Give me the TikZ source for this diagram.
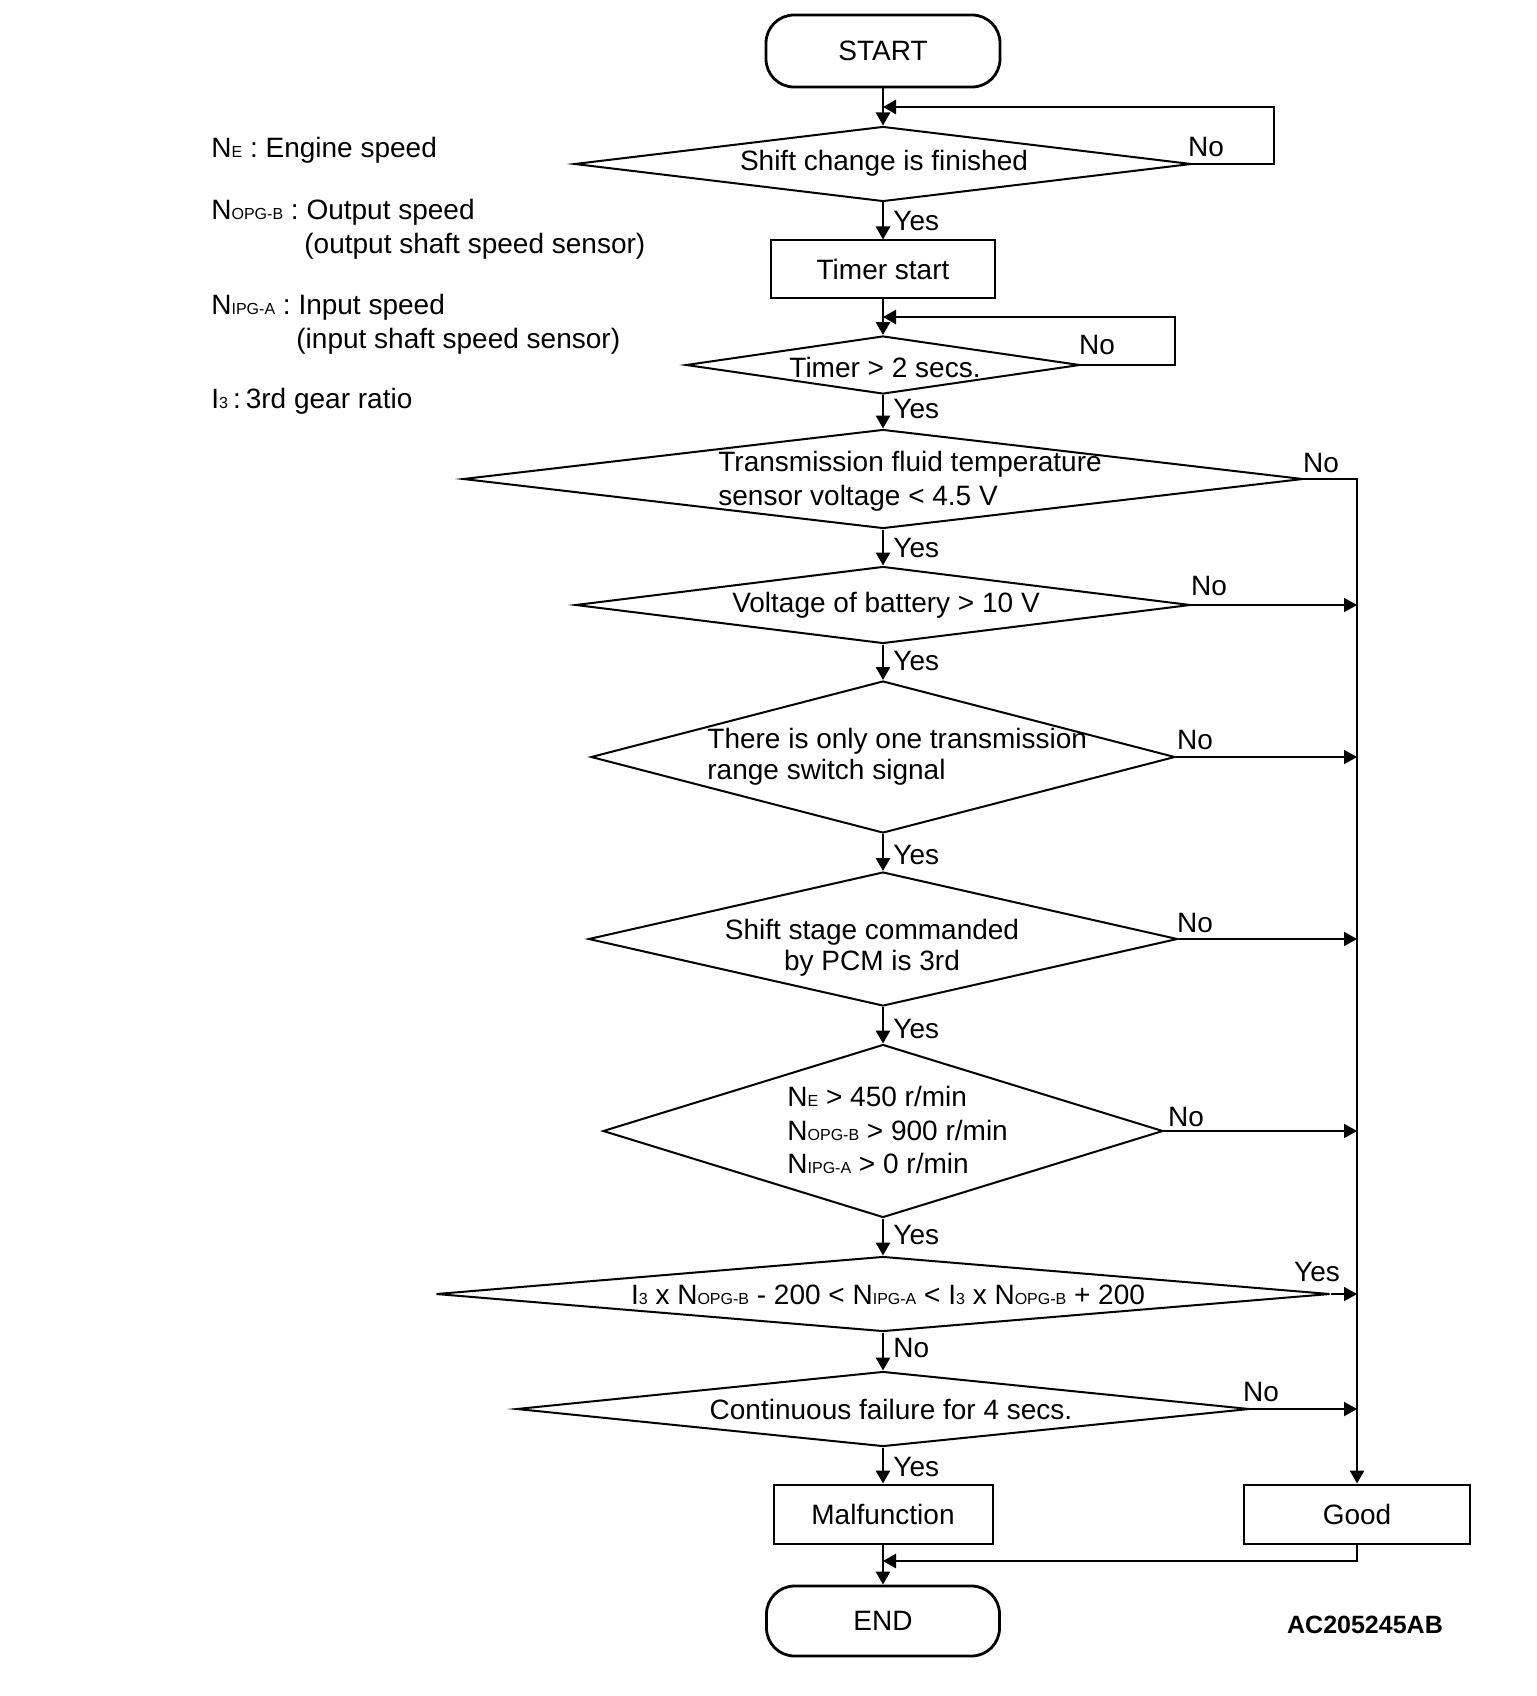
\documentclass[tikz,border=0pt]{standalone}
\usepackage{fontspec}
\setmainfont{Liberation Sans}
\usetikzlibrary{shapes.geometric,arrows.meta}
\newcommand{\ssc}[1]{{\fontsize{8}{8}\selectfont #1}}
\begin{document}
\begin{tikzpicture}[x=0.5pt,y=-0.5pt,
  every node/.style={font=\fontsize{14}{16.5}\selectfont, inner sep=0pt},
  dia/.style 2 args={draw, diamond, line width=1pt, minimum width=#1, minimum height=#2},
  box/.style 2 args={draw, rectangle, line width=1pt, minimum width=#1, minimum height=#2},
  term/.style={draw, rectangle, rounded corners=14pt, line width=1.4pt, minimum width=117pt, minimum height=36pt},
  arr/.style={-{Triangle[length=6.5pt,width=7pt]}, line width=1.4pt},
  harr/.style={-{Triangle[length=6.5pt,width=7pt]}, line width=1pt},
  bus/.style={-{Triangle[length=6.5pt,width=7pt]}, line width=1.2pt},
  lab/.style={anchor=west}]
\useasboundingbox (0,0) rectangle (1536,1696);

% legend
\node[lab] (lg1) at (211,150) {N\ssc{E} : Engine speed};
\node[lab] (lg2) at (211,212) {N\ssc{OPG-B} : Output speed};
\node[lab] (lg3) at (304,246) {(output shaft speed sensor)};
\node[lab] (lg4) at (211,307) {N\ssc{IPG-A} : Input speed};
\node[lab] (lg5) at (296,341) {(input shaft speed sensor)};
\node[lab] (lg6) at (211,401) {I\ssc{3}\hspace{2.5pt}:\hspace{2.5pt}3rd gear ratio};

% flow nodes
\node[term] (start) at (883,51) {START};
\node[dia={308.5pt}{37.5pt}] (d1) at (883,164) {};
\node (t1) at (884,163) {Shift change is finished};
\node[box={112pt}{28.5pt}] (timer) at (883,269) {Timer start};
\node[dia={197pt}{29pt}] (d2) at (883,365) {};
\node (t2) at (885,367) {Timer > 2 secs.};
\node[dia={420pt}{49.5pt}] (d3) at (883,479) {};
\node[anchor=west, align=left, font=\fontsize{14}{17}\selectfont] (t3) at (718,481) {Transmission fluid temperature\\sensor voltage < 4.5 V};
\node[dia={307.5pt}{38.5pt}] (d4) at (883,605) {};
\node (t4) at (886,605) {Voltage of battery > 10 V};
\node[dia={292pt}{76pt}] (d5) at (883,757) {};
\node[anchor=west, align=left, font=\fontsize{14}{15.5}\selectfont] (t5) at (707,757) {There is only one transmission\\range switch signal};
\node[dia={294.5pt}{67pt}] (d6) at (883,939) {};
\node[align=center, font=\fontsize{14}{15.5}\selectfont] (t6) at (872,948) {Shift stage commanded\\by PCM is 3rd};
\node[dia={280pt}{86.5pt}] (d7) at (883,1131) {};
\node[anchor=west, align=left, font=\fontsize{14}{16.75}\selectfont] (t7) at (787,1130) {N\ssc{E} > 450 r/min\\N\ssc{OPG-B} > 900 r/min\\N\ssc{IPG-A} > 0 r/min};
\node[dia={447pt}{37.5pt}] (d8) at (883,1294) {};
\node (t8) at (888,1295) {I\ssc{3} x N\ssc{OPG-B} - 200 < N\ssc{IPG-A} < I\ssc{3} x N\ssc{OPG-B} + 200};
\node[dia={366.5pt}{37.5pt}] (d9) at (883,1409) {};
\node (t9) at (891,1409) {Continuous failure for 4 secs.};
\node[box={109.5pt}{29.5pt}] (mal) at (883,1514) {Malfunction};
\node[box={113pt}{29.5pt}] (good) at (1357,1514) {Good};
\node[term, minimum width=116.5pt, minimum height=35pt] (end) at (883,1621) {END};
\node[font=\fontsize{12.5}{14}\bfseries\selectfont] (code) at (1365,1625) {AC205245AB};

% helper coordinates
\coordinate (c1) at (1274,107);
\coordinate (j1) at (883,107);
\coordinate (c2) at (1175,317);
\coordinate (j2) at (883,317);
\coordinate (b3) at (1357,479);
\coordinate (je) at (883,1561);

% main flow
\draw[arr] (start.south) -- (d1.north);
\draw[arr] (d1.east) -| (c1) -- (j1);
\draw[arr] (d1.south) -- (timer.north);
\draw[arr] (timer.south) -- (d2.north);
\draw[arr] (d2.east) -| (c2) -- (j2);
\draw[arr] (d2.south) -- (d3.north);
\draw[arr] (d3.south) -- (d4.north);
\draw[arr] (d4.south) -- (d5.north);
\draw[arr] (d5.south) -- (d6.north);
\draw[arr] (d6.south) -- (d7.north);
\draw[arr] (d7.south) -- (d8.north);
\draw[arr] (d8.south) -- (d9.north);
\draw[arr] (d9.south) -- (mal.north);
\draw[arr] (mal.south) -- (end.north);
% right bus
\draw[bus] (d3.east) -- (b3) -- (good.north);
\draw[harr] (d4.east) -- (d4.east -| good.north);
\draw[harr] (d5.east) -- (d5.east -| good.north);
\draw[harr] (d6.east) -- (d6.east -| good.north);
\draw[harr] (d7.east) -- (d7.east -| good.north);
\draw[harr] (d8.east) -- (d8.east -| good.north);
\draw[harr] (d9.east) -- (d9.east -| good.north);
\draw[arr] (good.south) |- (je);

% branch labels
\node[lab] (y1) at (893,221) {Yes};
\node[lab] (y2) at (893,409) {Yes};
\node[lab] (y3) at (893,548) {Yes};
\node[lab] (y4) at (893,661) {Yes};
\node[lab] (y5) at (893,855) {Yes};
\node[lab] (y6) at (893,1029) {Yes};
\node[lab] (y7) at (893,1235) {Yes};
\node[lab] (n8) at (893,1348) {No};
\node[lab] (y9) at (893,1467) {Yes};
\node (n1) at (1206,147) {No};
\node (n2) at (1097,345) {No};
\node (n3) at (1321,463) {No};
\node (n4) at (1209,586) {No};
\node (n5) at (1195,740) {No};
\node (n6) at (1195,923) {No};
\node (n7) at (1186,1117) {No};
\node (y8) at (1317,1272) {Yes};
\node (n9) at (1261,1392) {No};
\end{tikzpicture}
\end{document}
